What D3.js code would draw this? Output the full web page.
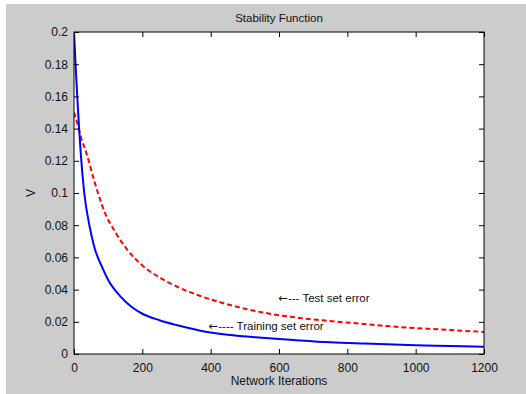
<!DOCTYPE html>
<html>
<head>
<meta charset="utf-8">
<script src="https://cdn.jsdelivr.net/npm/d3@7"></script>
<style>
  body { margin: 0; background: #fff; }
  svg text { font-family: "Liberation Sans", Arial, sans-serif; fill: #111; }
</style>
</head>
<body>
<svg id="chart"></svg>
<script>
// values
var title = 'Stability Function';
var xLabel = 'Network Iterations';
var yLabel = 'V';
var xTicks = [0, 200, 400, 600, 800, 1000, 1200];
var yTicks = [0, 0.02, 0.04, 0.06, 0.08, 0.1, 0.12, 0.14, 0.16, 0.18, 0.2];

var trainIter  = [0, 5, 10, 15, 20, 30, 45, 60, 80, 100, 135, 170, 200, 250, 300, 370, 450, 550, 650, 750, 850, 1000, 1100, 1200];
var trainError = [0.2, 0.178, 0.158, 0.14, 0.124, 0.1, 0.08, 0.066, 0.055, 0.046, 0.036, 0.029, 0.025, 0.021, 0.018, 0.0145, 0.012, 0.0101, 0.0086, 0.0073, 0.0065, 0.0055, 0.005, 0.0045];

var testIter  = [0, 10, 20, 36, 60, 90, 120, 155, 200, 255, 310, 370, 430, 490, 560, 660, 750, 850, 950, 1050, 1200];
var testError = [0.15, 0.143, 0.135, 0.125, 0.107, 0.088, 0.076, 0.065, 0.055, 0.047, 0.041, 0.036, 0.032, 0.0286, 0.0255, 0.0224, 0.0205, 0.0186, 0.0168, 0.0155, 0.0137];

var notes = [
  {arrow: '\u2190', text: '--- Test set error', x: 598, y: 0.0323},
  {arrow: '\u2190', text: '---- Training set error', x: 394, y: 0.0149}
];

var W = 526, H = 394;
var svg = d3.select('#chart').attr('width', W).attr('height', H);

// figure background
svg.append('rect')
  .attr('x', 6).attr('y', 4)
  .attr('width', W - 6).attr('height', H - 4)
  .attr('fill', '#cccccc');

var plotLeft = 74, plotRight = 484, plotTop = 32, plotBottom = 354;

var xScale = d3.scaleLinear().domain([0, 1200]).range([plotLeft, plotRight]);
var yScale = d3.scaleLinear().domain([0, 0.2]).range([plotBottom, plotTop]);

// plot area
svg.append('rect')
  .attr('x', plotLeft).attr('y', plotTop)
  .attr('width', plotRight - plotLeft).attr('height', plotBottom - plotTop)
  .attr('fill', 'white');

var line = d3.line()
  .x(function(d){ return xScale(d[0]); })
  .y(function(d){ return yScale(d[1]); })
  .curve(d3.curveMonotoneX);

svg.append('clipPath').attr('id', 'clipBox')
  .append('rect')
  .attr('x', plotLeft).attr('y', plotTop)
  .attr('width', plotRight - plotLeft).attr('height', plotBottom - plotTop);

svg.append('path')
  .datum(testIter.map(function(x, i){ return [x, testError[i]]; }))
  .attr('fill', 'none')
  .attr('stroke', '#ff0000')
  .attr('stroke-width', 2)
  .attr('stroke-dasharray', '5,3')
  .attr('clip-path', 'url(#clipBox)')
  .attr('d', line);

svg.append('path')
  .datum(trainIter.map(function(x, i){ return [x, trainError[i]]; }))
  .attr('fill', 'none')
  .attr('stroke', '#0000ff')
  .attr('stroke-width', 2)
  .attr('clip-path', 'url(#clipBox)')
  .attr('d', line);

// axes, matlab style: ticks inside on all four sides
function fmtY(d){ return d === 0 ? '0' : d3.format('.2~f')(d); }

svg.append('g')
  .attr('transform', 'translate(0,' + plotBottom + ')')
  .call(d3.axisBottom(xScale).tickValues(xTicks).tickSizeInner(-5).tickSizeOuter(0).tickPadding(9).tickFormat(d => d))
  .call(function(g){ g.select('.domain').remove(); })
  .selectAll('text').style('font-size', '12px');

svg.append('g')
  .attr('transform', 'translate(0,' + plotTop + ')')
  .call(d3.axisTop(xScale).tickValues(xTicks).tickSizeInner(-5).tickSizeOuter(0).tickFormat(''))
  .call(function(g){ g.select('.domain').remove(); });

svg.append('g')
  .attr('transform', 'translate(' + plotLeft + ',0)')
  .call(d3.axisLeft(yScale).tickValues(yTicks).tickSizeInner(-5).tickSizeOuter(0).tickPadding(6).tickFormat(fmtY))
  .call(function(g){ g.select('.domain').remove(); })
  .selectAll('text').style('font-size', '12px');

svg.append('g')
  .attr('transform', 'translate(' + plotRight + ',0)')
  .call(d3.axisRight(yScale).tickValues(yTicks).tickSizeInner(-5).tickSizeOuter(0).tickFormat(''))
  .call(function(g){ g.select('.domain').remove(); });

svg.selectAll('.tick line').attr('stroke', '#000');

// box
svg.append('rect')
  .attr('x', plotLeft).attr('y', plotTop)
  .attr('width', plotRight - plotLeft).attr('height', plotBottom - plotTop)
  .attr('fill', 'none')
  .attr('stroke', '#000')
  .attr('stroke-width', 1);

// annotations
notes.forEach(function(n){
  var t = svg.append('text')
    .attr('x', xScale(n.x))
    .attr('y', yScale(n.y))
    .style('font-size', '11.5px');
  t.append('tspan').style('font-family', '"DejaVu Sans"').text(n.arrow);
  t.append('tspan').text(n.text);
});

// titles
svg.append('text')
  .attr('x', (plotLeft + plotRight) / 2).attr('y', 22)
  .attr('text-anchor', 'middle')
  .style('font-size', '11.5px')
  .text(title);

svg.append('text')
  .attr('x', (plotLeft + plotRight) / 2).attr('y', 385)
  .attr('text-anchor', 'middle')
  .style('font-size', '12px')
  .text(xLabel);

svg.append('text')
  .attr('transform', 'translate(35,' + ((plotTop + plotBottom) / 2) + ') rotate(-90)')
  .attr('text-anchor', 'middle')
  .style('font-size', '12px')
  .text(yLabel);
</script>
</body>
</html>
